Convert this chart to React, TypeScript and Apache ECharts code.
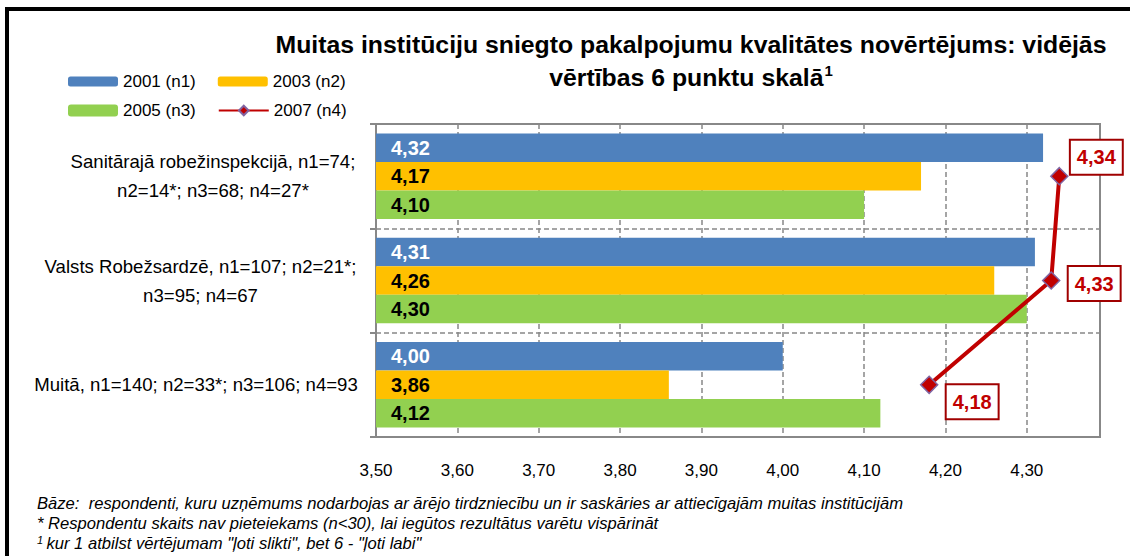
import React, { useEffect, useRef } from "react";
import * as echarts from "echarts";

const categories = [
  "Sanitārajā robežinspekcijā, n1=74;\nn2=14*; n3=68; n4=27*",
  "Valsts Robežsardzē, n1=107; n2=21*;\nn3=95; n4=67",
  "Muitā, n1=140; n2=33*; n3=106; n4=93",
];
const seriesNames = ["2001 (n1)", "2003 (n2)", "2005 (n3)", "2007 (n4)"];
const values2001 = [4.32, 4.31, 4.0];
const values2003 = [4.17, 4.26, 3.86];
const values2005 = [4.1, 4.3, 4.12];
const values2007 = [4.34, 4.33, 4.18];

const titleLines = [
  "Muitas institūciju sniegto pakalpojumu kvalitātes novērtējums: vidējās",
  "vērtības 6 punktu skalā",
];
const footnotes = [
  "Bāze:  respondenti, kuru uzņēmums nodarbojas ar ārējo tirdzniecību un ir saskāries ar attiecīgajām muitas institūcijām",
  "* Respondentu skaits nav pieteiekams (n<30), lai iegūtos rezultātus varētu vispārināt",
  "kur 1 atbilst vērtējumam \"ļoti slikti\", bet 6 - \"ļoti labi\"",
];

const FONT = "'Liberation Sans Narrow', 'Arial Narrow', 'Liberation Sans', Arial, sans-serif";
const fmt = (v: number) => v.toFixed(2).replace(".", ",");

// style-only settings
const catLabelWidths = [290, 315, 324];
const lineLabelOffsets = [
  [37, -19],
  [43, 3],
  [43, 17],
];

export default function App() {
  const ref = useRef<HTMLDivElement>(null);
  useEffect(() => {
    document.body.style.margin = "0";
    const chart = echarts.init(ref.current!, null, { renderer: "svg" });

    const barLabel = (color: string) => ({
      show: true,
      position: "insideLeft",
      distance: 15,
      color,
      fontFamily: FONT,
      fontWeight: "bold",
      fontSize: 20,
      formatter: (p: any) => fmt(p.value),
    });

    const rich: any = {};
    catLabelWidths.forEach((w, i) => {
      rich["c" + i] = {
        width: w,
        align: "center",
        fontFamily: FONT,
        fontSize: 18.6,
        lineHeight: 29,
        color: "#000",
      };
    });

    const legendText = { fontFamily: FONT, fontSize: 17, color: "#000" };

    const option: any = {
      animation: false,
      grid: {
        left: 376,
        top: 124,
        right: 30,
        bottom: 119,
        show: true,
        borderColor: "#888",
        borderWidth: 2,
        containLabel: false,
      },
      legend: [
        {
          data: [seriesNames[0], seriesNames[1]],
          left: 63,
          top: 68,
          itemWidth: 50,
          itemHeight: 10,
          itemGap: 22,
          textStyle: legendText,
        },
        {
          data: [seriesNames[2], seriesNames[3]],
          left: 63,
          top: 97,
          itemWidth: 50,
          itemHeight: 12,
          itemGap: 22,
          textStyle: legendText,
        },
      ],
      xAxis: {
        type: "value",
        min: 3.5,
        max: 4.39,
        interval: 0.1,
        axisLine: { show: true, lineStyle: { color: "#888", width: 2 } },
        axisTick: { show: false },
        splitLine: {
          show: true,
          lineStyle: { color: "#888", width: 1.5, type: [5, 3] },
        },
        axisLabel: {
          showMaxLabel: false,
          margin: 25,
          color: "#000",
          fontFamily: FONT,
          fontSize: 17,
          formatter: (v: number) => fmt(v),
        },
      },
      yAxis: {
        type: "category",
        inverse: true,
        data: categories,
        axisLine: { show: true, lineStyle: { color: "#888", width: 2 } },
        axisTick: { show: true, length: 6, lineStyle: { color: "#888", width: 2 } },
        splitLine: {
          show: true,
          lineStyle: { color: "#888", width: 1.5, type: [5, 3] },
        },
        axisLabel: {
          margin: 18,
          align: "right",
          rich,
          formatter: (v: string, i: number) =>
            v
              .split("\n")
              .map((l) => `{c${i}|${l}}`)
              .join("\n"),
        },
      },
      series: [
        {
          name: seriesNames[0],
          type: "bar",
          data: values2001,
          barGap: "0%",
          barCategoryGap: "18%",
          itemStyle: { color: "#4F81BD" },
          label: barLabel("#fff"),
        },
        {
          name: seriesNames[1],
          type: "bar",
          data: values2003,
          barGap: "0%",
          barCategoryGap: "18%",
          itemStyle: { color: "#FFC000" },
          label: barLabel("#000"),
        },
        {
          name: seriesNames[2],
          type: "bar",
          data: values2005,
          barGap: "0%",
          barCategoryGap: "18%",
          itemStyle: { color: "#92D050" },
          label: barLabel("#000"),
        },
        {
          name: seriesNames[3],
          type: "line",
          z: 5,
          data: values2007.map((v, i) => ({
            value: [v, categories[i]],
            label: { offset: lineLabelOffsets[i] },
          })),
          symbol: "diamond",
          symbolSize: 17,
          lineStyle: { color: "#C00000", width: 4 },
          itemStyle: { color: "#C00000", borderColor: "#8064A2", borderWidth: 1.5 },
          label: {
            show: true,
            position: "inside",
            align: "center",
            verticalAlign: "middle",
            color: "#C00000",
            fontFamily: FONT,
            fontWeight: "bold",
            fontSize: 20,
            backgroundColor: "#fff",
            borderColor: "#A00000",
            borderWidth: 2,
            padding: [7, 6, 6, 6],
            formatter: (p: any) => fmt(p.value[0]),
          },
        },
      ],
      graphic: [
        {
          type: "rect",
          shape: { x: 7, y: 9, width: 1200, height: 700 },
          style: { fill: "none", stroke: "#000", lineWidth: 4 },
          silent: true,
          z: 100,
        },
        {
          type: "text",
          x: 691,
          y: 28,
          style: {
            text: `{t|${titleLines[0]}}\n{t|${titleLines[1]}}{s|1}`,
            align: "center",
            verticalAlign: "top",
            rich: {
              t: {
                fontFamily: FONT,
                fontWeight: "bold",
                fontSize: 24.8,
                lineHeight: 33,
                fill: "#000",
              },
              s: {
                fontFamily: FONT,
                fontWeight: "bold",
                fontSize: 15,
                lineHeight: 33,
                verticalAlign: "top",
                padding: [2, 0, 0, 1],
                fill: "#000",
              },
            },
          },
        },
        ...footnotes.map((t, i) => ({
          type: "text",
          x: 37,
          y: 503 + i * 20,
          style: {
            text: i === 2 ? `{s|1} {n|${t}}` : `{n|${t}}`,
            verticalAlign: "middle",
            rich: {
              n: { fontFamily: FONT, fontStyle: "italic", fontSize: 16.6, fill: "#000" },
              s: { fontFamily: FONT, fontStyle: "italic", fontSize: 11, fill: "#000", verticalAlign: "top" },
            },
          },
        })),
      ],
    };
    chart.setOption(option);
    return () => chart.dispose();
  }, []);
  return <div ref={ref} style={{ width: 1130, height: 556 }} />;
}
